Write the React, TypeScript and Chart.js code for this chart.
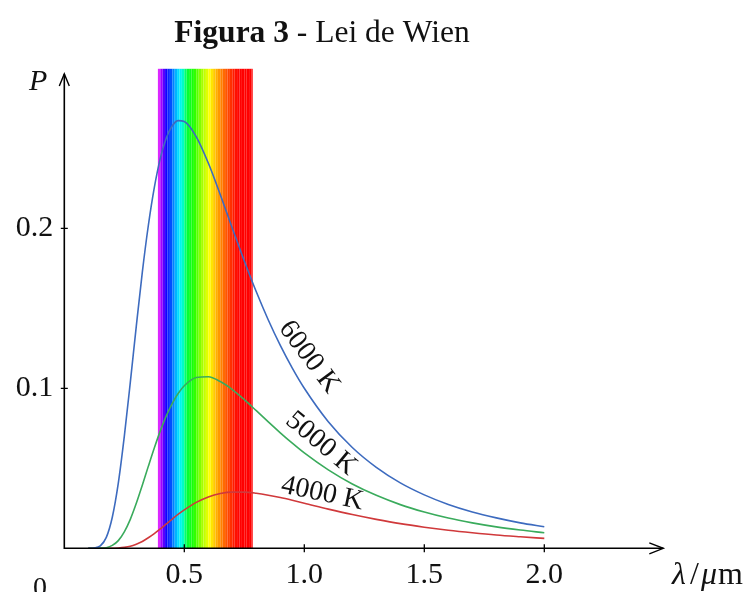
import { useEffect, useRef } from "react";
import { Chart, registerables } from "chart.js";

Chart.register(...registerables);

// wavelength (µm)
const wavelengths = [
  0.1, 0.125, 0.15, 0.175, 0.2, 0.225, 0.25, 0.275, 0.3, 0.325, 0.35, 0.375, 0.4, 0.425, 0.45, 0.475, 0.5,
  0.55, 0.6, 0.65, 0.7, 0.75, 0.8, 0.85, 0.9, 0.95, 1.0,
  1.1, 1.2, 1.3, 1.4, 1.5, 1.6, 1.7, 1.8, 1.9, 2.0,
];

const p6000 = [
  0.0, 0.0002, 0.0015, 0.0068, 0.0194, 0.0407, 0.0699, 0.1037, 0.1389, 0.1725, 0.2016, 0.2254, 0.2437, 0.2564, 0.2641, 0.2673, 0.2667,
  0.2572, 0.2408, 0.221, 0.2, 0.1796, 0.1603, 0.1427, 0.1268, 0.1126, 0.1,
  0.0791, 0.063, 0.0506, 0.0409, 0.0334, 0.0274, 0.0227, 0.019, 0.0159, 0.0135,
];

const p5000 = [
  0.0, 0.0, 0.0001, 0.0004, 0.0018, 0.0048, 0.0103, 0.0181, 0.0281, 0.0394, 0.0512, 0.0627, 0.0734, 0.0828, 0.0906, 0.0969, 0.1016,
  0.1067, 0.1072, 0.1042, 0.0992, 0.0929, 0.086, 0.079, 0.0722, 0.0657, 0.0596,
  0.049, 0.0402, 0.0331, 0.0273, 0.0227, 0.0189, 0.0159, 0.0134, 0.0114, 0.0097,
];

const p4000 = [
  0.0, 0.0, 0.0, 0.0, 0.0, 0.0002, 0.0006, 0.0013, 0.0026, 0.0043, 0.0066, 0.0092, 0.0121, 0.0152, 0.0183, 0.0213, 0.024,
  0.0287, 0.0321, 0.0342, 0.0351, 0.0351, 0.0344, 0.0332, 0.0317, 0.03, 0.0282,
  0.0245, 0.0211, 0.0181, 0.0154, 0.0132, 0.0113, 0.0097, 0.0083, 0.0072, 0.0062,
];

const seriesNames = ["6000 K", "5000 K", "4000 K"];
// label anchor positions (data coords) and rotation (deg)
const labelLambda = [1.02, 1.07, 1.075];
const labelP = [0.1195, 0.0655, 0.0342];
const labelAngle = [53, 40, 12];

const xTicks = [0.5, 1.0, 1.5, 2.0];
const yTicks = [0.1, 0.2];
const xMax = 2.5;
const yMax = 0.3;

const spectrumStart = 0.39;
const spectrumEnd = 0.785;
const spectrumBand = 0.01;
// colour stops (wavelength µm, rgb)
const spectrumStops: [number, number[]][] = [
  [0.39, [240, 80, 255]],
  [0.4, [200, 0, 255]],
  [0.41, [120, 0, 255]],
  [0.425, [20, 0, 255]],
  [0.445, [0, 80, 255]],
  [0.465, [0, 180, 255]],
  [0.48, [0, 240, 255]],
  [0.497, [0, 255, 190]],
  [0.51, [0, 255, 60]],
  [0.54, [30, 255, 0]],
  [0.57, [150, 255, 0]],
  [0.605, [255, 255, 0]],
  [0.635, [255, 175, 0]],
  [0.67, [255, 95, 0]],
  [0.71, [255, 20, 0]],
  [0.73, [255, 0, 0]],
  [0.79, [255, 0, 0]],
];

const COLORS = ["#3d6bbf", "#3aab5c", "#d0393b"];
const SERIF = "'Liberation Serif', 'Times New Roman', serif";

function colorAt(l: number): string {
  for (let i = 0; i < spectrumStops.length - 1; i++) {
    const [a, ca] = spectrumStops[i];
    const [b, cb] = spectrumStops[i + 1];
    if (l >= a && l <= b) {
      const t = (l - a) / (b - a);
      const c = ca.map((v, k) => Math.round(v + (cb[k] - v) * t));
      return `rgb(${c[0]},${c[1]},${c[2]})`;
    }
  }
  return "rgb(255,0,0)";
}

const decorPlugin = {
  id: "decor",
  beforeDatasetsDraw(chart: any) {
    const { ctx, scales } = chart;
    const x = scales.x;
    const y = scales.y;
    ctx.save();
    const top = y.getPixelForValue(yMax) + 0.5;
    const bottom = y.getPixelForValue(0);
    for (let l = spectrumStart; l < spectrumEnd - 1e-9; l += spectrumBand) {
      const x0 = x.getPixelForValue(l);
      const x1 = x.getPixelForValue(Math.min(l + spectrumBand, spectrumEnd));
      ctx.fillStyle = colorAt(l + spectrumBand / 2);
      ctx.fillRect(x0, top, x1 - x0, bottom - top);
    }
    ctx.restore();
  },
  afterDraw(chart: any) {
    const { ctx, scales } = chart;
    const x = scales.x;
    const y = scales.y;
    const x0 = x.getPixelForValue(0);
    const y0 = y.getPixelForValue(0);
    const xEnd = x.getPixelForValue(xMax) - 1;
    const yTop = y.getPixelForValue(0.2965);
    ctx.save();
    ctx.strokeStyle = "#000";
    ctx.lineWidth = 1.6;
    ctx.lineCap = "butt";
    // axes
    ctx.beginPath();
    ctx.moveTo(x0, y0);
    ctx.lineTo(xEnd, y0);
    ctx.moveTo(x0, y0 + 0.8);
    ctx.lineTo(x0, yTop);
    ctx.stroke();
    // arrow heads
    ctx.lineWidth = 1.4;
    ctx.beginPath();
    ctx.moveTo(xEnd - 14, y0 - 5.5);
    ctx.lineTo(xEnd, y0);
    ctx.lineTo(xEnd - 14, y0 + 5.5);
    ctx.moveTo(x0 - 5, yTop + 12);
    ctx.lineTo(x0, yTop);
    ctx.lineTo(x0 + 5, yTop + 12);
    ctx.stroke();
    // tick marks
    ctx.lineWidth = 1.3;
    ctx.beginPath();
    xTicks.forEach((v) => {
      const px = x.getPixelForValue(v);
      ctx.moveTo(px, y0 - 4);
      ctx.lineTo(px, y0 + 4);
    });
    yTicks.forEach((v) => {
      const py = y.getPixelForValue(v);
      ctx.moveTo(x0 - 3.5, py);
      ctx.lineTo(x0 + 3.5, py);
    });
    ctx.stroke();

    // curve labels
    ctx.fillStyle = "#111";
    ctx.font = `28px ${SERIF}`;
    ctx.textAlign = "center";
    ctx.textBaseline = "middle";
    seriesNames.forEach((name, i) => {
      const px = x.getPixelForValue(labelLambda[i]);
      const py = y.getPixelForValue(labelP[i]);
      ctx.save();
      ctx.translate(px, py);
      ctx.rotate((labelAngle[i] * Math.PI) / 180);
      ctx.fillText(name, 0, 0);
      ctx.restore();
    });

    // axis names
    ctx.textAlign = "left";
    ctx.textBaseline = "alphabetic";
    ctx.font = `italic 30px ${SERIF}`;
    ctx.fillText("P", 29, 90);
    // λ / μm
    const by = 584;
    ctx.font = `italic 32px ${SERIF}`;
    ctx.fillText("λ", 672, by);
    ctx.font = `32px ${SERIF}`;
    ctx.fillText("/", 690, by);
    ctx.font = `italic 32px ${SERIF}`;
    ctx.fillText("μ", 701, by);
    const muW = ctx.measureText("μ").width;
    ctx.font = `32px ${SERIF}`;
    ctx.fillText("m", 701 + muW + 1, by);
    ctx.font = `28px ${SERIF}`;
    ctx.textAlign = "center";
    ctx.fillText("0", 40, 596);

    // title
    ctx.textAlign = "left";
    const boldFont = `bold 31.5px ${SERIF}`;
    const normFont = `31.5px ${SERIF}`;
    const part1 = "Figura 3";
    const part2 = " - Lei de Wien";
    ctx.font = boldFont;
    const w1 = ctx.measureText(part1).width;
    ctx.font = normFont;
    const w2 = ctx.measureText(part2).width;
    const startX = 322 - (w1 + w2) / 2;
    ctx.font = boldFont;
    ctx.fillText(part1, startX, 42);
    ctx.font = normFont;
    ctx.fillText(part2, startX + w1, 42);
    ctx.restore();
  },
};

export default function App() {
  const canvasRef = useRef<HTMLCanvasElement | null>(null);

  useEffect(() => {
    if (!canvasRef.current) return;
    const mk = (vals: number[]) => wavelengths.map((l, i) => ({ x: l, y: vals[i] }));
    const chart = new Chart(canvasRef.current, {
      type: "line",
      data: {
        datasets: [p6000, p5000, p4000].map((vals, i) => ({
          label: seriesNames[i],
          data: mk(vals),
          borderColor: COLORS[i],
          backgroundColor: COLORS[i],
          borderWidth: 1.6,
          pointRadius: 0,
          fill: false,
          cubicInterpolationMode: "monotone" as const,
        })),
      },
      options: {
        animation: false,
        responsive: false,
        events: [],
        layout: { padding: { top: 68.3, right: 85.7, left: 0, bottom: 0 } },
        plugins: {
          legend: { display: false },
          title: { display: false },
          tooltip: { enabled: false },
        },
        scales: {
          x: {
            type: "linear",
            min: 0,
            max: xMax,
            grid: { display: false, drawTicks: false, tickLength: 0 },
            border: { display: false },
            afterFit: (s: any) => {
              s.height = 43.7;
            },
            afterBuildTicks: (s: any) => {
              s.ticks = xTicks.map((v) => ({ value: v }));
            },
            ticks: {
              padding: 9,
              color: "#111",
              font: { family: SERIF, size: 30 },
              maxRotation: 0,
              callback: (v: any) => Number(v).toFixed(1),
            },
          },
          y: {
            type: "linear",
            min: 0,
            max: yMax,
            grid: { display: false, drawTicks: false, tickLength: 0 },
            border: { display: false },
            afterFit: (s: any) => {
              s.width = 64.3;
            },
            afterBuildTicks: (s: any) => {
              s.ticks = yTicks.map((v) => ({ value: v }));
            },
            ticks: {
              padding: 11,
              color: "#111",
              font: { family: SERIF, size: 30 },
              callback: (v: any) => Number(v).toFixed(1),
            },
          },
        },
      },
      plugins: [decorPlugin],
    });
    return () => chart.destroy();
  }, []);

  return (
    <div style={{ position: "absolute", left: 0, top: 0, width: 750, height: 592, background: "#fff" }}>
      <canvas ref={canvasRef} width={750} height={592} style={{ display: "block" }} />
    </div>
  );
}
